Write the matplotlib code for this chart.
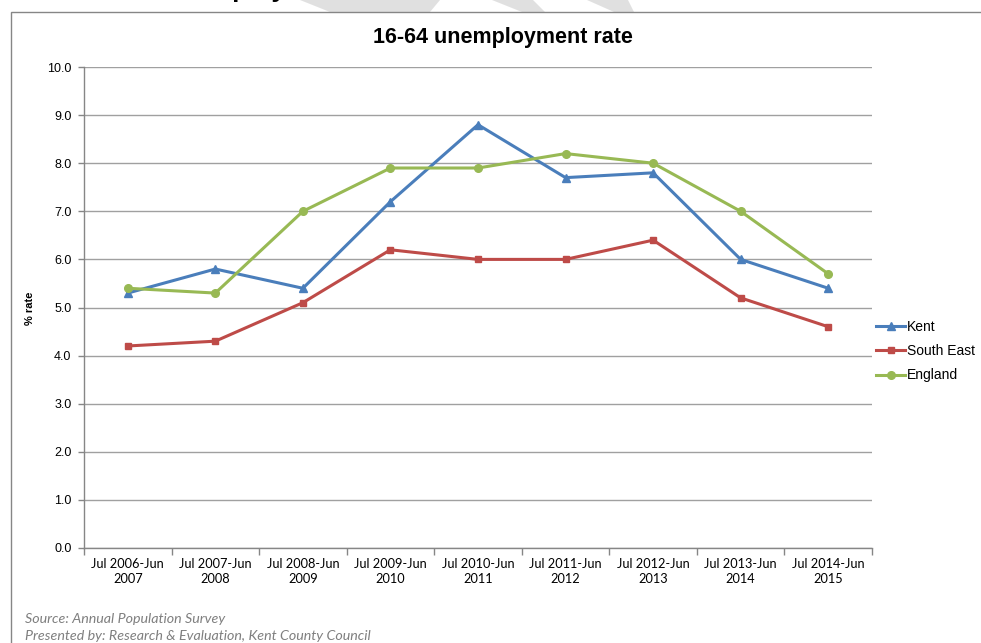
import matplotlib
matplotlib.use("Agg")
import matplotlib.pyplot as plt
from matplotlib.patches import Circle, Polygon, Rectangle
from matplotlib.ticker import FixedLocator, NullFormatter

periods = ["Jul 2006-Jun\n2007", "Jul 2007-Jun\n2008", "Jul 2008-Jun\n2009",
           "Jul 2009-Jun\n2010", "Jul 2010-Jun\n2011", "Jul 2011-Jun\n2012",
           "Jul 2012-Jun\n2013", "Jul 2013-Jun\n2014", "Jul 2014-Jun\n2015"]
kent = [5.3, 5.8, 5.4, 7.2, 8.8, 7.7, 7.8, 6.0, 5.4]
south_east = [4.2, 4.3, 5.1, 6.2, 6.0, 6.0, 6.4, 5.2, 4.6]
england = [5.4, 5.3, 7.0, 7.9, 7.9, 8.2, 8.0, 7.0, 5.7]

W, H = 981, 643
plt.rcParams["font.family"] = ["Liberation Sans", "DejaVu Sans"]

fig = plt.figure(figsize=(W / 100, H / 100), dpi=100)


def px(x, y):
    # pixel position (from top-left) -> figure fraction
    return x / W, 1 - y / H


# page heading, mostly cut off above the frame
fig.text(*px(86, -2.5), "16-64 Unemployment rates", fontsize=18.7,
         fontweight="bold", color="black", va="baseline", ha="left", zorder=1)

# faded logo behind the page
wm = dict(facecolor="#d4d4d4", edgecolor="none", alpha=0.7,
          transform=fig.transFigure, zorder=2)
cx, cy = px(147, 104)
fig.patches.append(Circle((cx, cy), 109 / W, **wm))
for pts in ([(300, 0), (440, 0), (430, 12), (330, 12)],
            [(492, 0), (533, 0), (545, 12), (522, 12)],
            [(587, 0), (628, 0), (634, 12), (614, 12)]):
    fig.patches.append(Polygon([px(x, y) for x, y in pts], closed=True, **wm))

# chart frame
fx, fy = px(11, 12)
fig.patches.append(Rectangle((fx, -0.1), 1.2, fy + 0.1, facecolor="white",
                             edgecolor="#868686", linewidth=1.0,
                             transform=fig.transFigure, zorder=3))

x0, y0 = px(84, 548)
x1, y1 = px(872, 67)
ax = fig.add_axes([x0, y0, x1 - x0, y1 - y0])
ax.set_zorder(5)
ax.set_facecolor("none")

xs = list(range(len(periods)))
ax.plot(xs, kent, color="#4a7ebb", lw=2.2, marker="^", ms=5.5,
        mec="#4a7ebb", label="Kent", zorder=4)
ax.plot(xs, south_east, color="#be4b48", lw=2.2, marker="s", ms=5,
        mec="#be4b48", label="South East", zorder=4)
ax.plot(xs, england, color="#98b954", lw=2.2, marker="o", ms=5.5,
        mec="#98b954", label="England", zorder=4)

ax.set_xlim(-0.5, len(periods) - 0.5)
ax.set_ylim(0, 10)
ax.set_yticks([i for i in range(11)])
ax.set_yticklabels([f"{i:.1f}" for i in range(11)], fontsize=9)
ax.yaxis.grid(True, color="#a0a0a0", lw=1.0)
ax.set_axisbelow(True)

ax.xaxis.set_major_locator(FixedLocator([i - 0.5 for i in range(len(periods) + 1)]))
ax.xaxis.set_major_formatter(NullFormatter())
ax.xaxis.set_minor_locator(FixedLocator(xs))
ax.set_xticklabels(periods, minor=True, fontsize=9.2, family="Lato",
                   linespacing=1.25)
ax.tick_params(axis="x", which="major", length=5, color="#868686", width=1)
ax.tick_params(axis="x", which="minor", length=0, pad=7.5)
ax.tick_params(axis="y", length=4, color="#868686", width=1, pad=5)

for side in ("top", "right"):
    ax.spines[side].set_visible(False)
for side in ("left", "bottom"):
    ax.spines[side].set_color("#868686")
    ax.spines[side].set_linewidth(1.0)

fig.text(*px(503, 38), "16-64 unemployment rate", fontsize=15.5,
         fontweight="bold", ha="center", va="center", zorder=6)
fig.text(*px(30, 308), "% rate", fontsize=8, fontweight="bold",
         rotation=90, ha="center", va="center", zorder=6)

fig.legend(loc="center left", bbox_to_anchor=px(876, 351), frameon=False,
           fontsize=10, handlelength=2.1, handletextpad=0.1,
           labelspacing=0.75, borderpad=0, borderaxespad=0)

fig.text(*px(25, 619), "Source: Annual Population Survey", fontsize=10.3,
         family="Lato", style="italic", color="#7f7f7f", va="center", zorder=6)
fig.text(*px(25, 636), "Presented by: Research & Evaluation, Kent County Council",
         fontsize=10.3, family="Lato", style="italic", color="#7f7f7f",
         va="center", zorder=6)

fig.savefig("out.png", dpi=100)
